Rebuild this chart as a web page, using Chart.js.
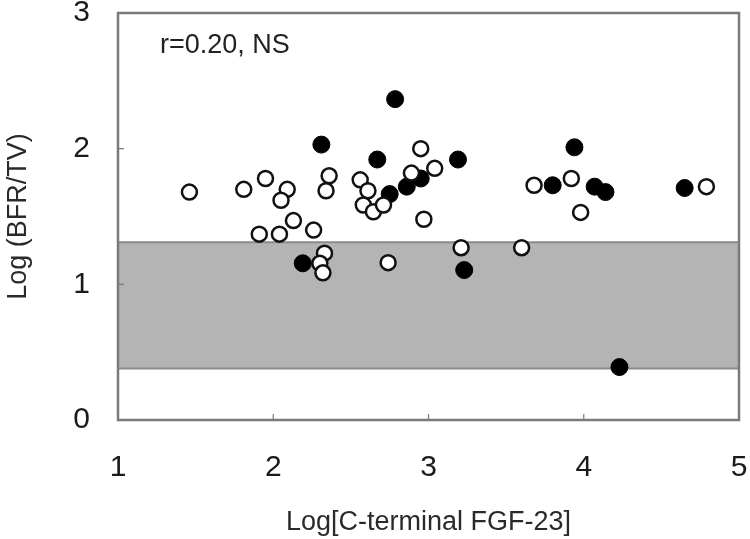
<!DOCTYPE html>
<html>
<head>
<meta charset="utf-8">
<script src="https://cdn.jsdelivr.net/npm/chart.js@4/dist/chart.umd.min.js"></script>
<style>
    html, body { margin: 0; padding: 0; background: #fff; }
    #wrap { width: 750px; height: 539px; }
</style>
</head>
<body>
<div id="wrap"><canvas id="grafico"></canvas></div>
<script>
// valores
const abertosX = [1.46, 1.81, 1.95, 2.09, 2.05, 1.91, 2.04, 2.13, 2.26, 2.36, 2.34, 2.33, 2.30, 2.32, 2.56,
    2.61, 2.58, 2.645, 2.71, 2.74, 2.89, 2.95, 3.04, 2.97, 3.21, 3.60, 3.68, 3.92, 3.98, 4.79];
const abertosY = [1.68, 1.70, 1.78, 1.70, 1.62, 1.37, 1.37, 1.47, 1.40, 1.80, 1.69, 1.23, 1.155, 1.085, 1.77,
    1.69, 1.585, 1.535, 1.585, 1.16, 1.82, 2.00, 1.855, 1.48, 1.27, 1.27, 1.73, 1.78, 1.53, 1.72];

const cheiosX = [2.19, 2.31, 2.785, 2.67, 2.75, 2.86, 2.95, 3.19, 3.23, 3.80, 3.94, 4.07, 4.14, 4.23, 4.65];
const cheiosY = [1.155, 2.03, 2.365, 1.92, 1.665, 1.72, 1.78, 1.92, 1.105, 1.73, 2.01, 1.72, 1.68, 0.39, 1.71];

const faixaNormal = [0.38, 1.31];
const ticksX = [1, 2, 3, 4, 5];
const ticksY = [0, 1, 2, 3];
const textoCorrelacao = "r=0.20, NS";
const posTexto = [1.27, 2.76];

const fonte = "'Liberation Sans', Arial, sans-serif";

const pontos = (xs, ys) => xs.map((x, i) => ({ x, y: ys[i] }));

// faixa cinza, moldura, ticks internos e texto
const extras = {
    id: "extras",
    beforeDatasetsDraw(chart) {
        const { ctx, chartArea: a, scales: { x, y } } = chart;
        const yTop = y.getPixelForValue(faixaNormal[1]);
        const yBot = y.getPixelForValue(faixaNormal[0]);
        ctx.save();
        ctx.fillStyle = "#b4b4b4";
        ctx.fillRect(a.left, yTop, a.right - a.left, yBot - yTop);
        ctx.strokeStyle = "#8a8a8a";
        ctx.lineWidth = 2;
        ctx.beginPath();
        ctx.moveTo(a.left, yTop); ctx.lineTo(a.right, yTop);
        ctx.moveTo(a.left, yBot); ctx.lineTo(a.right, yBot);
        ctx.stroke();

        ctx.fillStyle = "#222";
        ctx.font = "27px " + fonte;
        ctx.textBaseline = "middle";
        ctx.fillText(textoCorrelacao, x.getPixelForValue(posTexto[0]), y.getPixelForValue(posTexto[1]));
        ctx.restore();
    },
    afterDraw(chart) {
        const { ctx, chartArea: a, scales: { x, y } } = chart;
        ctx.save();
        ctx.strokeStyle = "#7a7a7a";
        ctx.lineWidth = 2.5;
        ctx.strokeRect(a.left, a.top, a.right - a.left, a.bottom - a.top);
        ctx.lineWidth = 1.2;
        ctx.beginPath();
        ticksX.slice(1, -1).forEach(v => {
            const px = x.getPixelForValue(v);
            ctx.moveTo(px, a.bottom); ctx.lineTo(px, a.bottom - 6);
        });
        ticksY.slice(1, -1).forEach(v => {
            const py = y.getPixelForValue(v);
            ctx.moveTo(a.left, py); ctx.lineTo(a.left + 6, py);
        });
        ctx.stroke();
        ctx.restore();
    }
};

new Chart(document.getElementById("grafico"), {
    type: "scatter",
    data: {
        datasets: [{
            label: "abertos",
            data: pontos(abertosX, abertosY),
            backgroundColor: "#ffffff",
            borderColor: "#111",
            borderWidth: 2.5,
            pointRadius: 7.5
        }, {
            label: "cheios",
            data: pontos(cheiosX, cheiosY),
            backgroundColor: "#000",
            borderColor: "#000",
            borderWidth: 1,
            pointRadius: 8.5
        }]
    },
    options: {
        responsive: true,
        maintainAspectRatio: false,
        animation: false,
        events: [],
        layout: { padding: { top: 13, right: 11, left: 0, bottom: 0 } },
        plugins: { legend: { display: false }, tooltip: { enabled: false } },
        scales: {
            x: {
                type: "linear",
                min: 1, max: 5,
                afterBuildTicks: s => { s.ticks = ticksX.map(v => ({ value: v })); },
                afterFit: s => { s.height = 119; s.paddingLeft = 0; s.paddingRight = 0; },
                grid: { display: false, drawTicks: false },
                border: { display: false },
                ticks: { color: "#1a1a1a", padding: 30, font: { family: fonte, size: 30 } },
                title: { display: true, text: "Log[C-terminal FGF-23]", color: "#2a2a2a",
                    font: { family: fonte, size: 27 }, padding: { top: 10, bottom: 0 } }
            },
            y: {
                type: "linear",
                min: 0, max: 3,
                afterBuildTicks: s => { s.ticks = ticksY.map(v => ({ value: v })); },
                afterFit: s => { s.width = 118; s.paddingTop = 0; s.paddingBottom = 0; },
                grid: { display: false, drawTicks: false },
                border: { display: false },
                ticks: { color: "#1a1a1a", padding: 28, font: { family: fonte, size: 30 } },
                title: { display: true, text: "Log (BFR/TV)", color: "#2a2a2a",
                    font: { family: fonte, size: 27 }, padding: { top: 2, bottom: 0 } }
            }
        }
    },
    plugins: [extras]
});
</script>
</body>
</html>
